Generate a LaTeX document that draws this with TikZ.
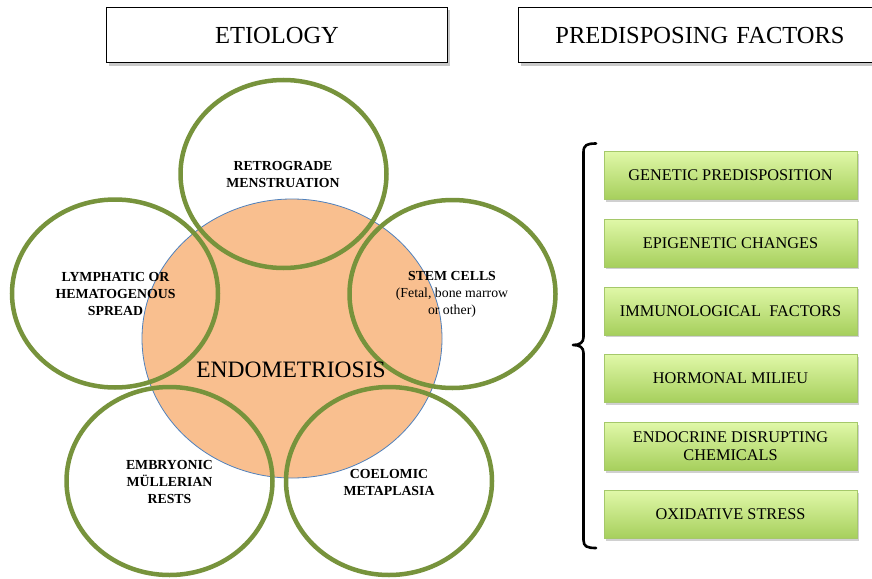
\documentclass[tikz,border=0pt]{standalone}
\usepackage{fontspec}
\setmainfont{Liberation Serif}
\usetikzlibrary{shapes.geometric,shadows}
\definecolor{ringgreen}{HTML}{77933C}
\definecolor{endofill}{HTML}{F9BF8F}
\definecolor{endoline}{HTML}{4F81BD}
\definecolor{boxtop}{HTML}{E0F8A8}
\definecolor{boxbot}{HTML}{A6CF5C}
\definecolor{boxline}{HTML}{A5C86A}
\tikzset{
  headbox/.style={draw=black, line width=1pt, fill=white, minimum height=55pt,
    font=\fontsize{24.5}{28}\selectfont,
    drop shadow={shadow xshift=2.5pt, shadow yshift=-2.5pt, opacity=0.35, fill=black!60}},
  ring/.style={ellipse, draw=ringgreen, line width=4.5pt, minimum width=206pt, minimum height=188pt, inner sep=0pt},
  ringtext/.style={align=center, font=\fontsize{13.8}{17}\selectfont},
  factor/.style={rectangle, draw=boxline, line width=0.8pt, top color=boxtop, bottom color=boxbot,
    minimum width=253pt, minimum height=48pt, align=center, inner sep=0pt,
    font=\fontsize{16.3}{20}\selectfont,
    drop shadow={shadow xshift=1.5pt, shadow yshift=-2pt, opacity=0.3, fill=black!60}},
  bracket/.style={line width=2.6pt, black, line cap=round, line join=round}
}
\begin{document}
\begin{tikzpicture}[x=1pt,y=-1pt]
\clip (0,0) rectangle (872,578);
\fill[white] (0,0) rectangle (872,578);
% headers
\node[headbox, minimum width=341pt] (etio) at (277,35.5) {ETIOLOGY};
\node[headbox, minimum width=364pt, text width=330pt, align=center] (predis) at (700,35.5) {PREDISPOSING FACTORS};
% central ellipse
\node[ellipse, fill=endofill, draw=endoline, line width=0.8pt, minimum width=300pt, minimum height=279pt] (endo) at (292,338.5) {};
% rings
\node[ring] (retro) at (283.5,174) {};
\node[ring] (lymph) at (115,293.5) {};
\node[ring] (stem) at (452.5,294) {};
\node[ring] (embr) at (169.5,481) {};
\node[ring] (coel) at (389,481) {};
% texts
\node[font=\fontsize{23.5}{27}\selectfont] (endotxt) at (291,370) {ENDOMETRIOSIS};
\node[ringtext] (retrotxt) at (283,174.5) {\textbf{RETROGRADE}\\\textbf{MENSTRUATION}};
\node[ringtext] (lymphtxt) at (115.5,294) {\textbf{LYMPHATIC OR}\\\textbf{HEMATOGENOUS}\\\textbf{SPREAD}};
\node[ringtext] (stemtxt) at (452,294) {\textbf{STEM CELLS}\\(Fetal, bone marrow\\or other)};
\node[ringtext] (embrtxt) at (169.5,482) {\textbf{EMBRYONIC}\\\textbf{MÜLLERIAN}\\\textbf{RESTS}};
\node[ringtext] (coeltxt) at (389,482) {\textbf{COELOMIC}\\\textbf{METAPLASIA}};
% factor boxes
\node[factor] (f1) at (730.5,175.5) {GENETIC PREDISPOSITION};
\node[factor] (f2) at (730.5,243) {EPIGENETIC CHANGES};
\node[factor] (f3) at (730.5,311) {IMMUNOLOGICAL\ \ FACTORS};
\node[factor] (f4) at (730.5,378.5) {HORMONAL MILIEU};
\node[factor] (f5) at (730.5,446.5) {ENDOCRINE DISRUPTING\\[-2pt]CHEMICALS};
\node[factor] (f6) at (730.5,514.5) {OXIDATIVE STRESS};
% bracket
\coordinate (btop) at (596,143.5);
\coordinate (bmid) at (573,345);
\coordinate (bbot) at (596,548);
\draw[bracket] (btop) .. controls (587,143.5) and (583.5,145) .. (583.5,152) -- (583.5,337)
  .. controls (583.5,342.5) and (580,345) .. (bmid)
  .. controls (580,345) and (583.5,347.5) .. (583.5,353) -- (583.5,540)
  .. controls (583.5,546.5) and (587,548) .. (bbot);
\end{tikzpicture}
\end{document}
